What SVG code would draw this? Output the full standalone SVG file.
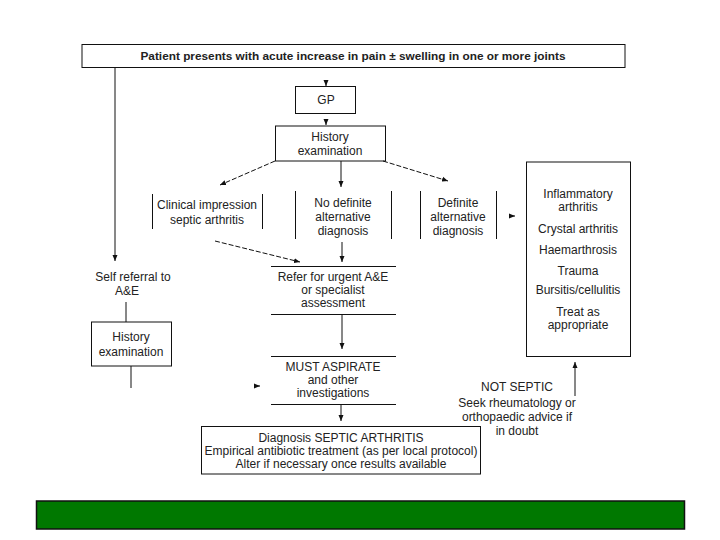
<svg xmlns="http://www.w3.org/2000/svg" width="720" height="540" viewBox="0 0 720 540">
<style>
text{font-family:"Liberation Sans",Arial,sans-serif;font-size:12px;fill:#222;text-anchor:middle}
.b{fill:none;stroke:#111;stroke-width:1}
.c{fill:none;stroke:#111;stroke-width:1}
.d{stroke-dasharray:5,2}
.t{font-weight:bold;font-size:11px}
</style>
<defs>
<marker id="ah" markerWidth="6" markerHeight="6" refX="6" refY="3" orient="auto" markerUnits="userSpaceOnUse">
<path d="M0,0.5 L6,3 L0,5.5 z" fill="#111"/>
</marker>
</defs>
<rect width="720" height="540" fill="#fff"/>

<g id="connectors">
<path class="c" d="M115,68 L115,261" marker-end="url(#ah)"/>
<path class="c" d="M326,80 L326,86" marker-end="url(#ah)"/>
<path class="c" d="M326,119 L326,125" marker-end="url(#ah)"/>
<path class="c d" d="M275,161 L220,185" marker-end="url(#ah)"/>
<path class="c" d="M341,161 L341,187" marker-end="url(#ah)"/>
<path class="c d" d="M383,161 L448,181" marker-end="url(#ah)"/>
<path class="c" d="M509,216 L515,216" marker-end="url(#ah)"/>
<path class="c d" d="M215,241 L300,262" marker-end="url(#ah)"/>
<path class="c" d="M342,242 L342,262" marker-end="url(#ah)"/>
<path class="c" d="M126,302 L126,322"/>
<path class="c" d="M131,366 L131,388"/>
<path class="c" d="M254,386 L260,386" marker-end="url(#ah)"/>
<path class="c" d="M342,314 L342,349" marker-end="url(#ah)"/>
<path class="c" d="M341,404 L341,421" marker-end="url(#ah)"/>
<path class="c" d="M575,396 L575,362" marker-end="url(#ah)"/>
</g>

<g id="n-top">
<rect class="b" x="82" y="44.5" width="543" height="23"/>
<text class="t" x="353" y="60" textLength="425" lengthAdjust="spacingAndGlyphs">Patient presents with acute increase in pain ± swelling in one or more joints</text>
</g>

<g id="n-gp">
<rect class="b" x="295.5" y="86.5" width="60" height="27"/>
<text x="326" y="104">GP</text>
</g>

<g id="n-history">
<rect class="b" x="275.5" y="126" width="110" height="35"/>
<text x="330" y="141">History</text>
<text x="330" y="155">examination</text>
</g>

<g id="n-clinical">
<path class="b" d="M152.5,194 V229 M262.5,194 V229"/>
<text x="207" y="209">Clinical impression</text>
<text x="207" y="224">septic arthritis</text>
</g>

<g id="n-nodefinite">
<path class="b" d="M295.5,191 V239 M391.5,191 V239"/>
<text x="343" y="207">No definite</text>
<text x="343" y="221">alternative</text>
<text x="343" y="235">diagnosis</text>
</g>

<g id="n-definite">
<path class="b" d="M420.5,191 V239 M496.5,191 V239"/>
<text x="458" y="207">Definite</text>
<text x="458" y="221">alternative</text>
<text x="458" y="235">diagnosis</text>
</g>

<g id="n-alternatives">
<rect class="b" x="526.5" y="162" width="104" height="194.5"/>
<text x="578" y="198">Inflammatory</text>
<text x="578" y="211">arthritis</text>
<text x="578" y="233">Crystal arthritis</text>
<text x="578" y="254">Haemarthrosis</text>
<text x="578" y="275">Trauma</text>
<text x="578" y="294">Bursitis/cellulitis</text>
<text x="578" y="316">Treat as</text>
<text x="578" y="329">appropriate</text>
</g>

<g id="n-selfref">
<text x="133" y="281">Self referral to</text>
<text x="127" y="295">A&amp;E</text>
</g>

<g id="n-refer">
<path class="b" d="M271,266.5 H396 M271,314.5 H396"/>
<text x="333" y="281">Refer for urgent A&amp;E</text>
<text x="333" y="294">or specialist</text>
<text x="333" y="307">assessment</text>
</g>

<g id="n-history2">
<rect class="b" x="91.5" y="322" width="80" height="44"/>
<text x="131" y="341">History</text>
<text x="131" y="356">examination</text>
</g>

<g id="n-aspirate">
<path class="b" d="M271,356.5 H396 M271,404.5 H396"/>
<text x="333" y="371">MUST ASPIRATE</text>
<text x="333" y="384">and other</text>
<text x="333" y="397">investigations</text>
</g>

<g id="n-notseptic">
<text x="517" y="391">NOT SEPTIC</text>
<text x="517" y="407">Seek rheumatology or</text>
<text x="517" y="421">orthopaedic advice if</text>
<text x="517" y="435">in doubt</text>
</g>

<g id="n-diagnosis">
<rect class="b" x="201.5" y="426.5" width="279" height="47.5"/>
<text x="341" y="442">Diagnosis SEPTIC ARTHRITIS</text>
<text x="341" y="455">Empirical antibiotic treatment  (as per local protocol)</text>
<text x="341" y="468">Alter if necessary once results available</text>
</g>

<rect x="36.5" y="501" width="648" height="28" fill="#007800" stroke="#111" stroke-width="1.5"/>
</svg>
